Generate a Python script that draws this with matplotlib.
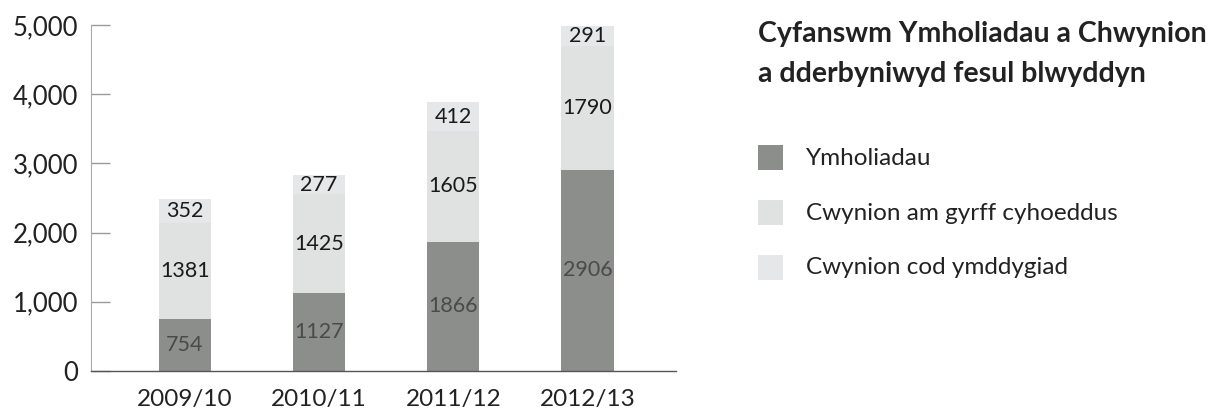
import matplotlib
matplotlib.use("Agg")
import matplotlib.pyplot as plt
from matplotlib.patches import Rectangle
import numpy as np

years = ["2009/10", "2010/11", "2011/12", "2012/13"]
ymholiadau = [754, 1127, 1866, 2906]
cwynion_cyrff = [1381, 1425, 1605, 1790]
cwynion_cod = [352, 277, 412, 291]
series_names = ["Ymholiadau", "Cwynion am gyrff cyhoeddus", "Cwynion cod ymddygiad"]
title = "Cyfanswm Ymholiadau a Chwynion\na dderbyniwyd fesul blwyddyn"
yticks = [0, 1000, 2000, 3000, 4000, 5000]

colors = ["#8c8e8c", "#e0e1e1", "#e6e7e8"]
label_colors = ["#4a4a4a", "#1a1a1a", "#1a1a1a"]

plt.rcParams['font.family'] = ['Lato', 'DejaVu Sans']

fig = plt.figure(figsize=(12.26, 4.12), dpi=100)
ax = fig.add_axes([91/1226, 1-371/412, (676-91)/1226, (371-25)/412])

x = np.arange(len(years))
w = 0.39
bottom = np.zeros(len(years))
for vals, c, lc in zip([ymholiadau, cwynion_cyrff, cwynion_cod], colors, label_colors):
    vals = np.array(vals, dtype=float)
    ax.bar(x, vals, w, bottom=bottom, color=c, linewidth=0)
    for xi, b, v in zip(x, bottom, vals):
        ax.text(xi, b + v/2, f"{int(v)}", ha="center", va="center",
                fontsize=15.5, color=lc)
    bottom += vals

ax.set_xlim(-0.70, 3.66)
ax.set_ylim(0, 5000)
ax.set_yticks(yticks)
ax.set_yticklabels([f"{t:,}" for t in yticks], fontsize=18.5, color="#222222")
ax.set_xticks(x)
ax.set_xticklabels(years, fontsize=17.5, color="#222222")
ax.tick_params(axis="y", direction="in", length=14, width=1, color="#999999", pad=9)
ax.tick_params(axis="x", length=0, pad=13)
for s in ["top", "right"]:
    ax.spines[s].set_visible(False)
ax.spines["left"].set_color("#aaaaaa")
ax.spines["left"].set_linewidth(0.8)
ax.spines["bottom"].set_color("#555555")
ax.spines["bottom"].set_linewidth(1.0)

fig.text(758/1226, 1-21/412, title, fontsize=20.5, fontweight="bold",
         color="#222222", va="top", ha="left", linespacing=1.68)

leg_y = [158, 213, 268]
for name, c, yy in zip(series_names, colors, leg_y):
    fig.patches.append(Rectangle((758/1226, 1-(yy+12)/412), 25/1226, 25/412,
                                 transform=fig.transFigure, color=c, linewidth=0))
    fig.text(806/1226, 1-yy/412, name, fontsize=17.5, color="#222222",
             va="center", ha="left")

fig.savefig("out.png", dpi=100)
